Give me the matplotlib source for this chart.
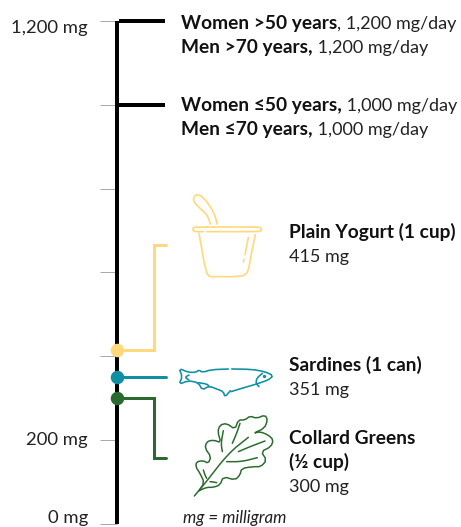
import matplotlib
matplotlib.use("Agg")
import matplotlib.pyplot as plt
import numpy as np

W, H = 461, 527
FONT = "Lato"
plt.rcParams['font.family'] = [FONT, 'DejaVu Sans']

# Data
tick_values = [0, 200, 400, 600, 800, 1000, 1200]
tick_labels = {1200: "1,200 mg", 200: "200 mg", 0: "0 mg"}
label_dy = {1200: 7, 200: 0, 0: -5}
requirement_values = [1200, 1000]
requirement_bold = [["Women >50 years", "Men >70 years,"], ["Women ≤50 years,", "Men ≤70 years,"]]
requirement_rest = [[", 1,200 mg/day", " 1,200 mg/day"], [" 1,000 mg/day", " 1,000 mg/day"]]
food_values = [415, 351, 300]
food_elbow_ends = [665, 351, 156]
food_colors = ["#FFD97C", "#0E8FA3", "#2A6A2E"]
food_bold = [["Plain Yogurt (1 cup)"], ["Sardines (1 can)"], ["Collard Greens", "(½ cup)"]]
food_amount = ["415 mg", "351 mg", "300 mg"]

fig = plt.figure(figsize=(W / 100, H / 100), dpi=100)
Y0, Y1 = 523.5, 21
ax = fig.add_axes([0, 1 - Y0 / H, 1, (Y0 - Y1) / H])
ax.set_xlim(0, W)
ax.set_ylim(0, 1200)
ax.axis("off")
px = 100 / 72


def lw(p):
    return p / px


for v in tick_values:
    ax.plot([100, 117], [v, v], color="#AAAAAA", lw=lw(1), solid_capstyle="butt", clip_on=False, zorder=1)
ax.plot([117, 117], [0, 1200], color="black", lw=lw(4), solid_capstyle="butt", clip_on=False, zorder=2)
for v in requirement_values:
    ax.plot([119, 165], [v, v], color="black", lw=lw(4), solid_capstyle="butt", clip_on=False, zorder=2)

TS = 13.0
TB = 13.8
for v, s in tick_labels.items():
    ax.annotate(s, (88, v), xytext=(0, -label_dy[v] * 0.72), textcoords="offset points",
                ha="right", va="center", fontsize=13.3, color="#222222", annotation_clip=False)

for v, e, c in zip(food_values, food_elbow_ends, food_colors):
    if v == e:
        ax.plot([117, 166], [v, v], color=c, lw=lw(3), solid_capstyle="round", clip_on=False, zorder=3)
    else:
        ax.plot([117, 154, 154, 166], [v, v, e, e], color=c, lw=lw(3), solid_capstyle="round",
                solid_joinstyle="miter", clip_on=False, zorder=3)
    ax.plot([117], [v], "o", color=c, ms=13.5 / px, mew=0, clip_on=False, zorder=4)

# Overlay in pixels for annotation text and icons
ov = fig.add_axes([0, 0, 1, 1])
ov.set_xlim(0, W)
ov.set_ylim(H, 0)
ov.axis("off")
ov.patch.set_alpha(0)
fig.canvas.draw()
rend = fig.canvas.get_renderer()


def mixed(x, y, bold, rest, color="#111111"):
    t = ov.text(x, y, bold, fontsize=TB, fontweight="bold", va="baseline", ha="left", color=color)
    bb = t.get_window_extent(rend)
    if rest:
        ov.text(bb.x1 + 0.0, y, rest, fontsize=TS, va="baseline", ha="left", color="#222222")


for (ys, b, r) in zip([[29, 53], [111, 135]], requirement_bold, requirement_rest):
    for y, bi, ri in zip(ys, b, r):
        mixed(181, y, bi, ri)

mixed(289, 238, food_bold[0][0], "")
ov.text(289, 262, food_amount[0], fontsize=TS, va="baseline", color="#222222")
mixed(289, 371, food_bold[1][0], "")
ov.text(289, 395, food_amount[1], fontsize=TS, va="baseline", color="#222222")
mixed(289, 444, food_bold[2][0], "")
mixed(289, 468, food_bold[2][1], "")
ov.text(289, 492, food_amount[2], fontsize=TS, va="baseline", color="#222222")
ov.text(183, 518, "mg = milligram", fontsize=12.2, style="italic", va="center", color="#222222")


def chaikin(p, n=2):
    p = np.array(p, float)
    for _ in range(n):
        q = p[:-1] * .75 + p[1:] * .25
        r = p[:-1] * .25 + p[1:] * .75
        m = np.empty((len(q) * 2, 2))
        m[0::2], m[1::2] = q, r
        p = np.vstack([p[0], m, p[-1]])
    return p


def stroke(pts, ox, oy, sc, color, width, n=2):
    pts = chaikin(pts, n)
    ov.plot(ox + pts[:, 0] / sc, oy + pts[:, 1] / sc, color=color, lw=lw(width),
            solid_capstyle="round", solid_joinstyle="round")


# Yogurt icon (zoom coords of region at 100,180)
Yc = food_colors[0]
yog = [
    [(331, 132), (322, 105), (300, 85), (280, 65), (282, 48), (295, 43), (312, 55), (335, 85), (348, 115), (351, 132)],
    [(297, 160), (305, 205), (315, 262), (325, 290), (345, 290), (420, 290), (440, 282), (447, 262), (455, 215), (466, 164)],
    [(445, 173), (435, 224)],
    [(432, 238), (430, 246)],
]
for s in yog:
    stroke(s, 100, 180, 3, Yc, 1.7)
stroke([(310, 155), (290, 155), (279, 153), (279, 143), (290, 141), (470, 141), (484, 143), (484, 153), (470, 155), (320, 155)],
       100, 180, 3, Yc, 1.7)

# Fish icon (zoom coords of region at 175,360)
Fc = food_colors[1]
fish = [
    [(170, 27), (230, 28), (270, 35), (295, 47), (280, 60), (245, 72), (200, 85), (168, 95)],
    [(160, 27), (110, 29), (82, 37), (72, 30), (62, 37), (40, 37), (12, 25), (22, 50), (12, 73), (40, 62), (70, 68),
     (82, 90), (102, 78), (128, 88), (145, 95), (150, 111), (166, 92)],
    [(262, 40), (245, 55), (243, 70), (252, 80)],
    [(42, 45), (30, 52), (42, 60)],
    [(70, 68), (95, 72), (102, 78)],
]
for s in fish:
    stroke(s, 175, 360, 3, Fc, 1.6, n=1)
ov.plot(175 + 268 / 3, 360 + 48 / 3, "o", color=Fc, ms=1.4)

# Leaf icon (zoom coords of region at 185,410)
Lc = food_colors[2]
outline = [(42, 242), (58, 218), (45, 190), (32, 170), (35, 155), (55, 152), (70, 160), (78, 140), (60, 115), (65, 95),
           (85, 90), (108, 98), (98, 65), (105, 45), (125, 40), (150, 58), (160, 30), (180, 30), (195, 18), (215, 25),
           (240, 15), (248, 30), (238, 55), (205, 70), (225, 65), (250, 75), (265, 90), (258, 110), (228, 125), (245, 150),
           (228, 170), (205, 170), (170, 175), (165, 195), (150, 210), (115, 200), (105, 225), (85, 232), (65, 232), (42, 242)]
veins = [
    [(28, 258), (60, 220), (130, 130), (190, 82)],
    [(115, 62), (108, 100), (112, 125)],
    [(165, 40), (155, 70), (142, 100)],
    [(55, 180), (60, 195), (65, 205)],
    [(240, 93), (195, 110), (160, 125)],
    [(217, 143), (170, 155), (125, 155)],
    [(75, 215), (85, 216), (95, 218)],
]
stroke(outline, 185, 410, 3, Lc, 1.5, n=1)
for s in veins:
    stroke(s, 185, 410, 3, Lc, 1.5)

fig.savefig("out.png", dpi=100)
